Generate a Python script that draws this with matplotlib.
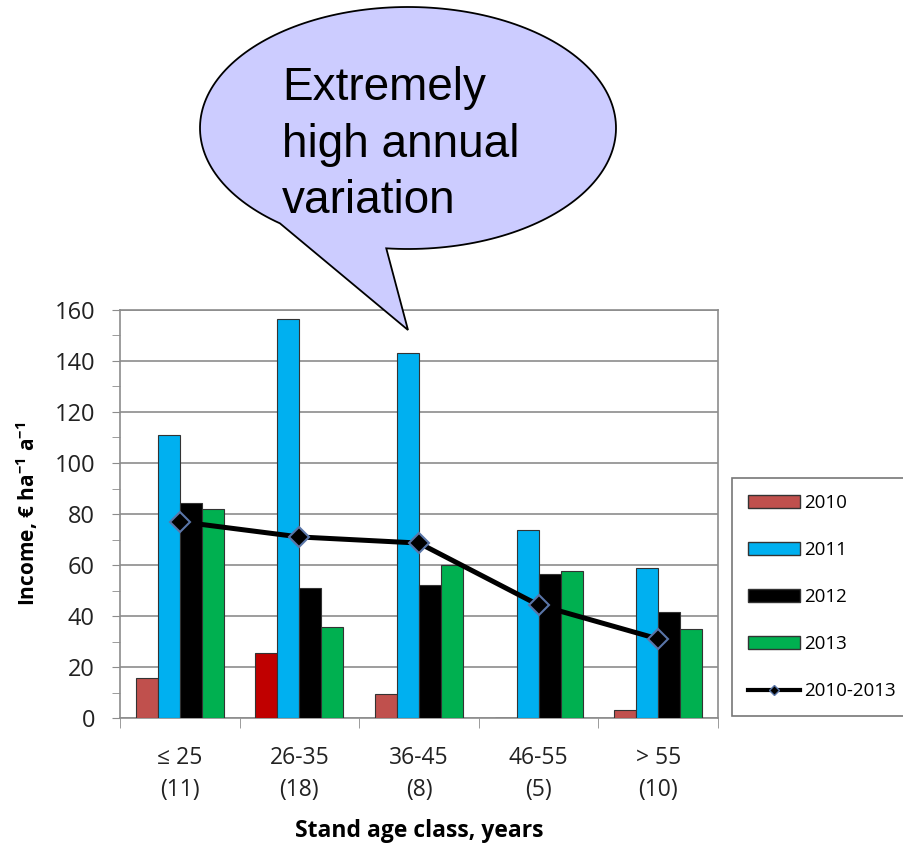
import numpy as np
import matplotlib.pyplot as plt
from matplotlib.patches import Rectangle, Polygon
from matplotlib.lines import Line2D

plt.rcParams['font.family'] = ['Open Sans', 'DejaVu Sans']
plt.rcParams['mathtext.fontset'] = 'custom'
plt.rcParams['mathtext.rm'] = 'Open Sans'
plt.rcParams['mathtext.bf'] = 'Open Sans:bold'

# data
classes = ['\u2264 25\n(11)', '26-35\n(18)', '36-45\n(8)', '46-55\n(5)', '> 55\n(10)']
inc_2010 = [15.7, 25.5, 9.4, 0, 3.1]
inc_2011 = [111, 156.5, 143, 73.7, 58.8]
inc_2012 = [84.3, 51, 52, 56.5, 41.6]
inc_2013 = [82, 35.7, 60, 57.6, 35]
inc_mean = [77, 71, 68.6, 44.3, 31]
years = ['2010', '2011', '2012', '2013']

red_2010 = ['#C0504D', '#C00000', '#C0504D', '#C0504D', '#C0504D']
c2011 = '#00B0F0'
c2012 = '#000000'
c2013 = '#00B050'

fig = plt.figure(figsize=(9.04, 8.49), dpi=100)
ax = fig.add_axes([120/904, 1-718/849, 598/904, 408/849])

x = np.arange(len(classes))
w = 0.184
ax.bar(x - 1.5*w, inc_2010, w, color=red_2010, edgecolor='#333333', linewidth=0.8, zorder=3)
ax.bar(x - 0.5*w, inc_2011, w, color=c2011, edgecolor='#333333', linewidth=0.8, zorder=3)
ax.bar(x + 0.5*w, inc_2012, w, color=c2012, edgecolor='#333333', linewidth=0.8, zorder=3)
ax.bar(x + 1.5*w, inc_2013, w, color=c2013, edgecolor='#333333', linewidth=0.8, zorder=3)
ax.plot(x, inc_mean, color='black', lw=3.6, marker='D', markersize=10,
        markerfacecolor='black', markeredgecolor='#5A76A8', markeredgewidth=1.5, zorder=4)

ax.set_xlim(-0.5, 4.5)
ax.set_ylim(0, 160)
ax.set_yticks(np.arange(0, 161, 20))
ax.set_yticks(np.arange(0, 161, 10), minor=True)
ax.grid(axis='y', color='#8c8c8c', lw=1.2, zorder=0)
ax.set_xticks(x)
ax.set_xticklabels(classes, fontsize=16.5, color='#222222')
for lab in ax.get_xticklabels():
    lab.set_linespacing(1.45)
ax.set_xticks(np.arange(-0.5, 4.6, 1), minor=True)
ax.tick_params(axis='x', which='major', length=0, pad=20)
ax.tick_params(axis='x', which='minor', length=7, color='#8c8c8c', direction='out')
ax.tick_params(axis='y', which='both', length=6, color='#8c8c8c', direction='out',
               labelsize=17, labelcolor='#222222', pad=12)
for s in ax.spines.values():
    s.set_color('#8c8c8c')
    s.set_linewidth(1.2)

ax.set_ylabel('Income, \u20ac ha$^{\\mathbf{-1}}$ a$^{\\mathbf{-1}}$', fontsize=15,
              fontweight='bold', labelpad=10)
ax.set_xlabel('Stand age class, years', fontsize=16.5, fontweight='bold', labelpad=12)

# legend
handles = [Rectangle((0, 0), 1, 1, facecolor=red_2010[0], edgecolor='#333333'),
           Rectangle((0, 0), 1, 1, facecolor=c2011, edgecolor='#333333'),
           Rectangle((0, 0), 1, 1, facecolor=c2012, edgecolor='#333333'),
           Rectangle((0, 0), 1, 1, facecolor=c2013, edgecolor='#333333'),
           Line2D([], [], color='black', lw=3, marker='D', markersize=5,
                  markerfacecolor='black', markeredgecolor='#5A76A8')]
leg = fig.legend(handles, years + ['2010-2013'], loc='upper left',
                 bbox_to_anchor=(732/904, 1-478/849), fontsize=13.5, frameon=True,
                 fancybox=False, edgecolor='#555555', handlelength=2.8, handleheight=0.65,
                 labelspacing=1.55, handletextpad=0.2, borderpad=0.85, borderaxespad=0)
leg.get_frame().set_linewidth(1.2)

# speech bubble overlay
ov = fig.add_axes([0, 0, 1, 1], zorder=10)
ov.set_xlim(0, 904)
ov.set_ylim(849, 0)
ov.axis('off')
ov.patch.set_alpha(0)
cx, cy, a, b = 408, 128, 208, 121
t = np.radians(np.linspace(128, 456, 200))
pts = np.column_stack([cx + a*np.cos(t), cy + b*np.sin(t)])
pts = np.vstack([pts, [[408, 330]]])
ov.add_patch(Polygon(pts, closed=True, facecolor='#CCCCFF', edgecolor='black', lw=1.3))
for txt, yb in [('Extremely', 100), ('high annual', 157), ('variation', 213)]:
    ov.text(282, yb, txt, fontsize=33, family='Liberation Sans', va='baseline')

fig.savefig('out.png', dpi=100)
